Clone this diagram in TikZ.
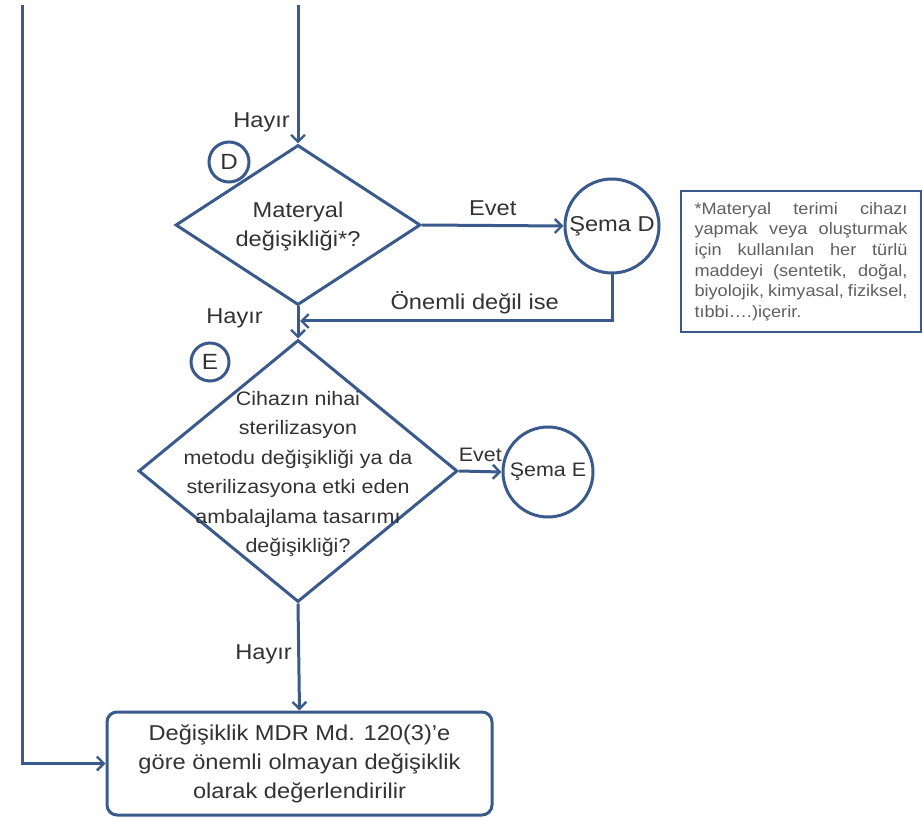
\documentclass[tikz,border=0pt]{standalone}
\usepackage{fontspec}
\setmainfont[FakeStretch=1.1]{Liberation Sans}
\usetikzlibrary{shapes.geometric,arrows.meta}
\definecolor{flowblue}{RGB}{58,90,140}
\definecolor{txtgray}{RGB}{50,50,50}
\definecolor{notegray}{RGB}{95,95,95}

\begin{document}
\begin{tikzpicture}[x=1pt, y=-1pt,
    line/.style={draw=flowblue, line width=3pt},
    arr/.style={line, -{Straight Barb[length=7pt,width=14pt,line width=2.4pt]}},
    decision/.style={line, diamond, inner sep=0pt},
    lbl/.style={text=txtgray, font=\fontsize{21.5}{29}\selectfont, align=center, inner sep=0pt},
    small/.style={font=\fontsize{19.5}{29.5}\selectfont},
    tag/.style={line, circle, inner sep=0pt, text=txtgray, font=\fontsize{22}{22}\selectfont}]
	\useasboundingbox (0,0) rectangle (922,818);

	% Decisions
	\node[decision, minimum width=245, minimum height=160] (dD) at (298,225) {};
	\node[lbl] (tD) at (298,226) {Materyal\\değişikliği*?};
	\node[decision, minimum width=319, minimum height=262] (dE) at (298,471) {};
	\node[lbl, small] (tE) at (298,474) {Cihazın nihai\\sterilizasyon\\metodu değişikliği ya da\\sterilizasyona etki eden\\ambalajlama tasarımı\\değişikliği?};

	% Letter tags on the diamonds
	\node[tag, minimum size=40] (cD) at (229,162) {D};
	\node[tag, minimum size=38] (cE) at (210,362) {E};

	% Schemes on the right
	\node[line, circle, minimum size=94, inner sep=0pt, lbl] (sD) at (612,226) {Şema D};
	\node[line, circle, minimum size=90, inner sep=0pt, lbl, small] (sE) at (548,472) {Şema E};

	% Result box
	\node[line, rounded corners=10pt, minimum width=385, minimum height=103, lbl] (res) at (299.5,763.5) {Değişiklik MDR Md. 120(3)'e\\göre önemli olmayan değişiklik\\olarak değerlendirilir};

	% Footnote box
	\node[draw=flowblue, line width=1.6pt, minimum width=240, minimum height=141, inner sep=0pt] (note) at (801,261.5) {};
	\node[text=notegray, text width=213pt, align=justify, inner sep=0pt, font=\fontsize{16.5}{20.6}\selectfont] (tnote) at (note.center) {*Materyal terimi cihazı\linebreak yapmak veya oluşturmak\linebreak için kullanılan her türlü\linebreak maddeyi (sentetik, doğal,\linebreak biyolojik, kimyasal, fiziksel,\linebreak tıbbi….)içerir.};

	% Incoming lines
	\coordinate (inL) at (22,5);
	\coordinate (inT) at (298,5);
	\coordinate (join) at (300,321);
	\draw[arr] (inT) -- (dD.north);
	\draw[arr] (inL) |- (res.west);

	% Draw mappings
	\draw[arr] (dD.east) -- (sD.west) node[lbl, midway, above=8pt] {Evet};
	\draw[arr] (sD.south) |- (join) node[lbl, pos=0.72, above=6pt] {Önemli değil ise};
	\draw[arr] (dD.south) -- (dE.north);
	\draw[arr] (dE.east) -- (sE.west) node[lbl, small, midway, above=8pt] {Evet};
	\draw[arr] (dE.south) -- (res.north);

	% Hayır labels
	\node[lbl, anchor=east] (h1) at (290,122) {Hayır};
	\node[lbl, anchor=east] (h2) at (263,318) {Hayır};
	\node[lbl, anchor=east] (h3) at (292,654) {Hayır};
\end{tikzpicture}
\end{document}
